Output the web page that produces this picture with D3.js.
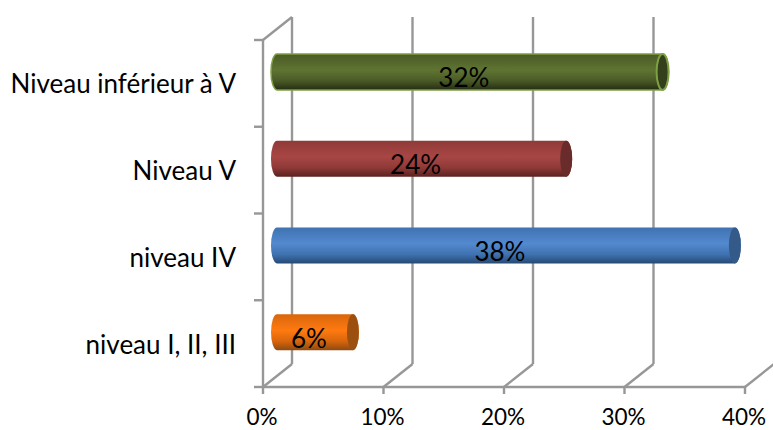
<!DOCTYPE html>
<html><head><meta charset="utf-8">
<script src="https://cdnjs.cloudflare.com/ajax/libs/d3/7.8.5/d3.min.js"></script>
<style>html,body{margin:0;padding:0;background:#fff}svg{display:block}text{font-family:Lato,"Open Sans",sans-serif;fill:#000}</style>
</head><body><svg id="c" width="773" height="430"></svg>
<script>
const categories = ["Niveau inférieur à V","Niveau V","niveau IV","niveau I, II, III"];
const values = [32, 24, 38, 6.3];
const tickValues = [0,10,20,30,40];
const light = ["#5f7432","#a84644","#5389cf","#ff7a10"];
const mid = ["#4a5a26","#8f3a38","#3f72b0","#d8660c"];
const dark = ["#252d12","#5a2220","#264a75","#8f4a10"];
const capFill = ["#33401b","#6a2c2a","#345a8a","#9c5010"];
const edge = ["#7f9f45",null,null,null];

const svg = d3.select("#c");
const x = d3.scaleLinear().domain([0,40]).range([263,745]);
const y = d3.scaleBand().domain(categories).range([40,387]);
const depthX = 29, depthY = 23, barShift = 14, barH = 36, rx = 6;
const grey = "#979797";
const defs = svg.append("defs");
categories.forEach((c,i)=>{
  const g = defs.append("linearGradient").attr("id","g"+i).attr("x1",0).attr("x2",0).attr("y1",0).attr("y2",1);
  [[0,mid[i]],[0.45,light[i]],[0.75,mid[i]],[1,dark[i]]].forEach(s=>g.append("stop").attr("offset",s[0]).attr("stop-color",s[1]));
});
const grid = svg.append("g").attr("fill","none").attr("stroke",grey).attr("stroke-width",2.4);
const y0 = y.range()[0], y1 = y.range()[1];
tickValues.forEach((t,i)=>{
  const px = x(t);
  if(i<tickValues.length-1){
    grid.append("line").attr("x1",px+depthX).attr("x2",px+depthX).attr("y1",y0-depthY).attr("y2",y1-depthY);
  }
  grid.append("line").attr("x1",px).attr("x2",px+depthX).attr("y1",y1).attr("y2",y1-depthY);
  grid.append("line").attr("x1",px).attr("x2",px).attr("y1",y1).attr("y2",y1+7);
});
grid.append("line").attr("x1",x(0)).attr("x2",x(0)+depthX).attr("y1",y0).attr("y2",y0-depthY);
grid.append("line").attr("x1",x(0)).attr("x2",x(0)).attr("y1",y0).attr("y2",y1);
grid.append("line").attr("x1",x(0)).attr("x2",x(40)).attr("y1",y1).attr("y2",y1);
[y0].concat(categories.map(c=>y(c)+y.bandwidth())).forEach(v=>{
  grid.append("line").attr("x1",x(0)-9).attr("x2",x(0)).attr("y1",v).attr("y2",v);
});
categories.forEach((c,i)=>{
  const cy = y(c)+y.bandwidth()/2 - 11.5, xs = x(0)+barShift, xe = x(values[i])+barShift, r = barH/2;
  const body = `M${xs},${cy-r}L${xe},${cy-r}A${rx},${r} 0 0 1 ${xe},${cy+r}L${xs},${cy+r}A${rx},${r} 0 0 1 ${xs},${cy-r}Z`;
  const p = svg.append("path").attr("d",body).attr("fill",`url(#g${i})`);
  const e = svg.append("ellipse").attr("cx",xe).attr("cy",cy).attr("rx",rx).attr("ry",r).attr("fill",capFill[i]);
  if(edge[i]){ p.attr("stroke",edge[i]).attr("stroke-width",1.5); e.attr("stroke",edge[i]).attr("stroke-width",2); }
  svg.append("text").attr("x",(xs+xe)/2-6).attr("y",cy+15.5).attr("text-anchor","middle").attr("font-size",26).text(Math.round(values[i])+"%");
  svg.append("text").attr("x",236).attr("y",y(c)+y.bandwidth()/2+10).attr("text-anchor","end").attr("font-size",26).text(c);
});
tickValues.forEach(t=>{
  svg.append("text").attr("x",Math.min(x(t)-1,747)).attr("y",425).attr("text-anchor","middle").attr("font-size",22.5).text(t+"%");
});
</script></body></html>
